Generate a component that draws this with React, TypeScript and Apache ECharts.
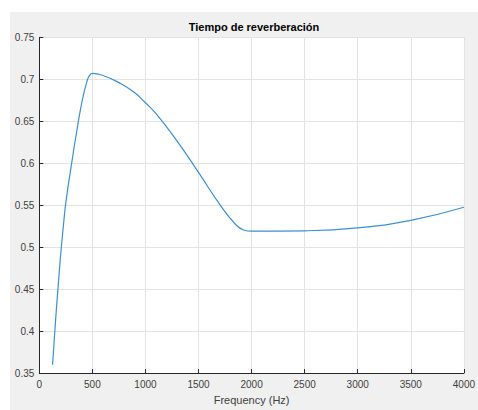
import React, { useEffect, useRef } from "react";
import * as echarts from "echarts";

const frequencies = [
  125, 150, 175, 200, 225, 250, 300, 350, 400, 450, 475, 500, 600, 750, 900,
  1000, 1100, 1300, 1500, 1700, 1850, 1925, 2000, 2500, 3000, 3500, 4000,
];
const reverbTimes = [
  0.36, 0.407, 0.449, 0.489, 0.523, 0.553, 0.596, 0.636, 0.672, 0.698, 0.705,
  0.707, 0.7045, 0.696, 0.684, 0.672, 0.659, 0.626, 0.589, 0.551, 0.527, 0.5205,
  0.519, 0.5195, 0.523, 0.532, 0.5475,
];
const xTicks = { min: 0, max: 4000, step: 500 };
const yTicks = { min: 0.35, max: 0.75, step: 0.05 };
const titleText = "Tiempo de reverberación";
const xName = "Frequency (Hz)";

export default function App() {
  const ref = useRef<HTMLDivElement>(null);
  useEffect(() => {
    if (!ref.current) return;
    const chart = echarts.init(ref.current, undefined, { renderer: "svg" });
    const axisColor = "#262626";
    const labelColor = "#404040";
    const font = "'Liberation Sans', Arial, Helvetica, sans-serif";
    chart.setOption({
      animation: false,
      backgroundColor: "#ffffff",
      textStyle: { fontFamily: font },
      graphic: [
        {
          type: "rect",
          z: -10,
          shape: { x: 10, y: 12, width: 468, height: 398 },
          style: { fill: "#f0f0f0" },
          silent: true,
        },
        {
          type: "text",
          x: 254,
          y: 27,
          style: {
            text: titleText,
            fontFamily: font,
            fontWeight: "bold",
            fontSize: 11,
            fill: "#000000",
            textAlign: "center",
            textVerticalAlign: "middle",
          },
        },
      ],
      grid: {
        left: 39.3,
        right: 8.7,
        top: 37.3,
        bottom: 32.7,
        show: true,
        backgroundColor: "#ffffff",
        borderWidth: 0,
        containLabel: false,
      },
      xAxis: {
        type: "value",
        min: xTicks.min,
        max: xTicks.max,
        interval: xTicks.step,
        name: xName,
        nameLocation: "middle",
        nameGap: 20,
        nameTextStyle: { color: labelColor, fontSize: 11, fontFamily: font },
        axisLine: { show: true, onZero: false, lineStyle: { color: axisColor, width: 1 } },
        axisTick: { show: true, inside: true, length: 4, lineStyle: { color: axisColor } },
        axisLabel: {
          color: labelColor,
          fontSize: 10,
          margin: 6,
          fontFamily: font,
          showMaxLabel: true,
          showMinLabel: true,
          formatter: (v: number) => String(Math.round(v)),
        },
        splitLine: { show: true, lineStyle: { color: "#e3e3e3", width: 1 } },
      },
      yAxis: {
        type: "value",
        min: yTicks.min,
        max: yTicks.max,
        interval: yTicks.step,
        axisLine: { show: true, onZero: false, lineStyle: { color: axisColor, width: 1 } },
        axisTick: { show: true, inside: true, length: 4, lineStyle: { color: axisColor } },
        axisLabel: {
          color: labelColor,
          fontSize: 10,
          margin: 5,
          fontFamily: font,
          formatter: (v: number) => String(parseFloat(v.toFixed(2))),
        },
        splitLine: { show: true, lineStyle: { color: "#e3e3e3", width: 1 } },
      },
      series: [
        {
          type: "line",
          data: frequencies.map((f, i) => [f, reverbTimes[i]]),
          showSymbol: false,
          smooth: 0.5,
          lineStyle: { color: "#3d8fd0", width: 1.2 },
          itemStyle: { color: "#3d8fd0" },
        },
      ],
    });
    return () => chart.dispose();
  }, []);
  return (
    <div
      ref={ref}
      style={{ position: "absolute", left: 0, top: 0, width: 478, height: 410 }}
    />
  );
}
